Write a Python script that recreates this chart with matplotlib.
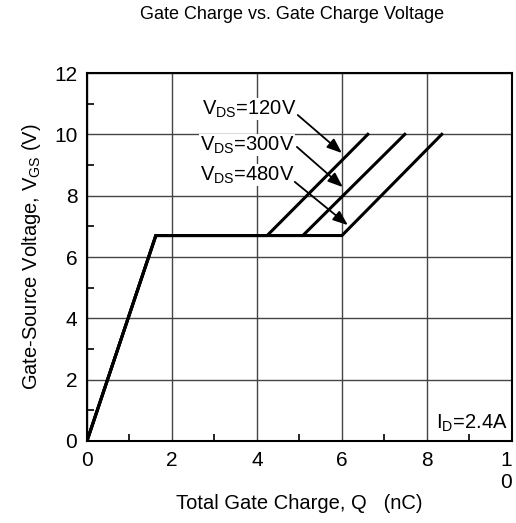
import matplotlib.pyplot as plt
import numpy as np

plt.rcParams['font.family'] = ['Liberation Sans', 'DejaVu Sans']
plt.rcParams['mathtext.fontset'] = 'custom'
plt.rcParams['mathtext.rm'] = 'Liberation Sans'
plt.rcParams['mathtext.it'] = 'Liberation Sans'

# gate charge curves (nC, V)
q_120 = [0, 1.62, 4.24, 6.61]
q_300 = [0, 1.62, 5.08, 7.48]
q_480 = [0, 1.62, 6.0, 8.35]
vgs = [0, 6.7, 6.7, 10]

labels = ['120V', '300V', '480V']
label_pos = [(2.7, 10.83), (2.66, 9.65), (2.66, 8.67)]
arrow_from = [(4.96, 10.63), (4.94, 9.59), (4.89, 8.45)]
arrow_to = [(6.0, 9.39), (6.02, 8.28), (6.14, 7.04)]

xticks = [0, 2, 4, 6, 8, 10]
xtick_labels = ['0', '2', '4', '6', '8', '1\n0']
yticks = [0, 2, 4, 6, 8, 10, 12]

fig = plt.figure(figsize=(5.16, 5.23), dpi=100)
ax = fig.add_axes([0.1686, 0.1568, 0.8234, 0.7036])

for q in (q_120, q_300, q_480):
    ax.plot(q, vgs, color='black', linewidth=2.2, solid_joinstyle='miter', zorder=3)

for lab, (tx, ty), p0, p1 in zip(labels, label_pos, arrow_from, arrow_to):
    ax.text(tx, ty, r'V$_{\mathrm{DS}}$=' + lab, fontsize=14.5, va='center', ha='left',
            zorder=4, bbox=dict(facecolor='white', edgecolor='none', pad=0.5))
    ax.annotate('', xy=p1, xytext=p0,
                arrowprops=dict(arrowstyle='-|>,head_length=0.9,head_width=0.35',
                                color='black', lw=1.3, shrinkA=0, shrinkB=0), zorder=5)

ax.text(9.9, 0.59, r'I$_{\mathrm{D}}$=2.4A', fontsize=14.5, ha='right', va='center')

ax.set_xlim(0, 10)
ax.set_ylim(0, 12)
ax.set_xticks(xticks)
ax.set_xticklabels(xtick_labels)
ax.set_yticks(yticks)
ax.set_xticks(np.arange(1, 10, 2), minor=True)
ax.set_yticks(np.arange(1, 12, 2), minor=True)
ax.tick_params(which='major', length=0, labelsize=15, pad=7)
ax.tick_params(which='minor', direction='in', length=5, width=1.2)
ax.get_xticklabels()[-1].set_ha('right')
ax.grid(True, which='major', color='#444444', linewidth=1.0)
for s in ax.spines.values():
    s.set_linewidth(1.5)

ax.set_xlabel('Total Gate Charge, Q   (nC)', fontsize=14.5, labelpad=2)
ax.set_ylabel(r'Gate-Source Voltage, V$_{\mathrm{GS}}$ (V)', fontsize=14.5, labelpad=8)
fig.text(0.566, 0.972, 'Gate Charge vs. Gate Charge Voltage', fontsize=13, ha='center', va='center')

fig.savefig('out.png', dpi=100)
